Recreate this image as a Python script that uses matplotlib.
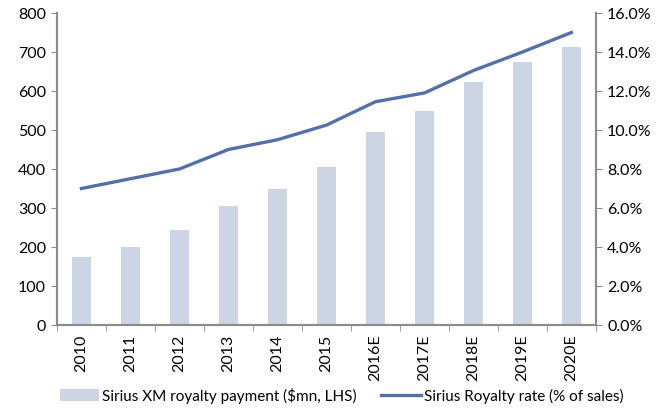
import matplotlib.pyplot as plt
import numpy as np
from matplotlib.ticker import FuncFormatter, FixedLocator

years = ['2010', '2011', '2012', '2013', '2014', '2015',
         '2016E', '2017E', '2018E', '2019E', '2020E']
royalty_payment = [175, 200, 243, 305, 348, 405, 495, 549, 623, 675, 712]
royalty_rate = [7.0, 7.5, 8.0, 9.0, 9.5, 10.25, 11.45, 11.9, 13.05, 14.0, 15.0]

plt.rcParams['font.family'] = ['Lato', 'DejaVu Sans']
plt.rcParams['font.size'] = 11.5
grey = '#8c8c8c'

fig = plt.figure(figsize=(6.7, 4.14), dpi=100)
ax = fig.add_axes([0.085, 0.2126, 0.8045, 0.7536])
ax2 = ax.twinx()

x = np.arange(len(years))
ax.bar(x, royalty_payment, width=0.4, color='#cdd5e5',
       label='Sirius XM royalty payment ($mn, LHS)')
ax2.plot(x, royalty_rate, color='#5470a8', lw=2.4,
         label='Sirius Royalty rate (% of sales)')

ax.set_xlim(-0.5, len(years) - 0.5)
ax.set_ylim(0, 800)
ax.set_yticks(range(0, 801, 100))
ax2.set_ylim(0, 16)
ax2.set_yticks(range(0, 17, 2))
ax2.yaxis.set_major_formatter(FuncFormatter(lambda v, p: f'{v:.1f}%'))

ax.set_xticks(x)
ax.set_xticklabels(years, rotation=90)
ax.xaxis.set_minor_locator(FixedLocator(np.arange(-0.5, len(years), 1)))
ax.tick_params(axis='x', which='major', length=0, pad=6)
ax.tick_params(axis='x', which='minor', length=4, color=grey, direction='out')
ax.tick_params(axis='y', length=4, color=grey, direction='out', pad=4)
ax2.tick_params(axis='y', length=4, color=grey, direction='out', pad=4)

for a in (ax, ax2):
    a.spines['top'].set_visible(False)
    for s in ('left', 'right', 'bottom'):
        a.spines[s].set_color(grey)
        a.spines[s].set_linewidth(1.5)

h1, l1 = ax.get_legend_handles_labels()
h2, l2 = ax2.get_legend_handles_labels()
fig.legend(h1 + h2, l1 + l2, loc='lower center', bbox_to_anchor=(0.51, -0.01),
           ncol=2, frameon=False, handlelength=2.6, handleheight=0.9,
           columnspacing=1.6, handletextpad=0.2, fontsize=11)

fig.savefig('out.png', dpi=100)
